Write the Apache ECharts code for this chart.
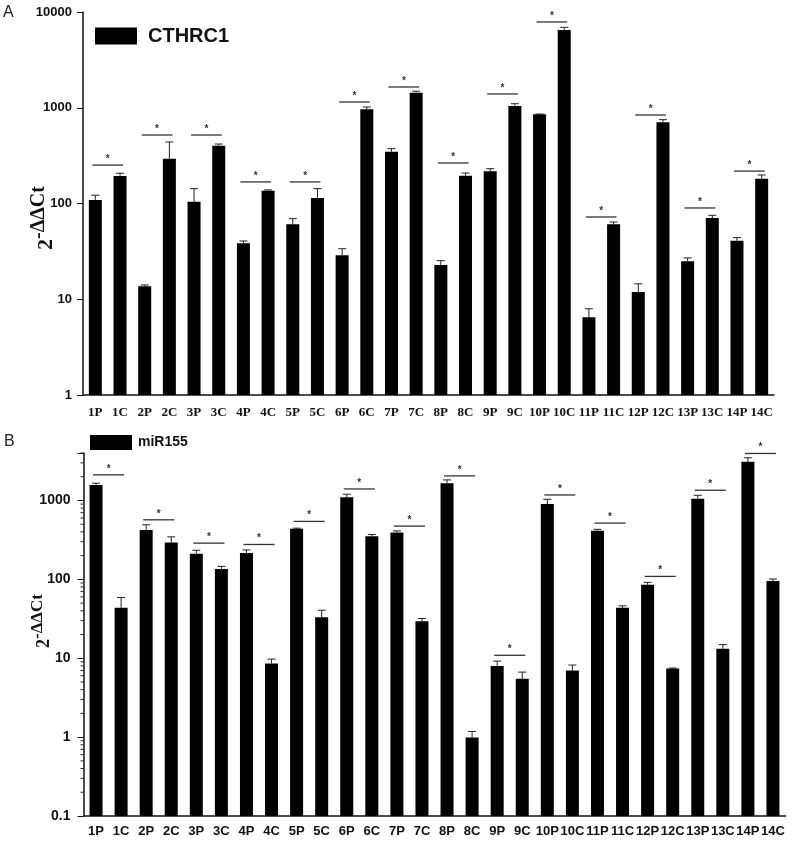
<!DOCTYPE html>
<html>
<head>
<meta charset="utf-8">
<script src="https://cdn.jsdelivr.net/npm/echarts@6/dist/echarts.min.js"></script>
<style>
  html, body { margin: 0; padding: 0; background: #fff; }
  #chart { width: 794px; height: 841px; }
</style>
</head>
<body>
<div id="chart"></div>
<script>
// sample labels (P / C pairs)
const categories = ['1P','1C','2P','2C','3P','3C','4P','4C','5P','5C','6P','6C','7P','7C',
  '8P','8C','9P','9C','10P','10C','11P','11C','12P','12C','13P','13C','14P','14C'];

// panel A - CTHRC1 (mean and upper error)
const cthrc1 = [109, 194, 13.7, 294, 104, 402, 38.4, 136, 60.6, 114, 28.8, 964, 347, 1436,
  22.8, 195, 217, 1043, 853, 6490, 6.48, 60.6, 11.9, 705, 24.9, 70.6, 40.9, 181.6];
const cthrc1Err = [13, 13, 0.4, 145, 39, 16, 2.2, 2.6, 8.9, 29, 4.9, 54, 27, 54,
  2.5, 13, 14, 59, 7, 430, 1.48, 3.5, 2.6, 46, 2.1, 4.7, 3.1, 17];
// height of the "*" line over each pair
const cthrc1Sig = [252, 519, 519, 168, 168, 1148, 1648, 265, 1393, 7870, 72.3, 840, 89.8, 218];

// panel B - miR155
const mir155 = [1575, 43.6, 421, 293, 212, 135, 216, 8.59, 437, 33.1, 1097, 353, 393, 29.4,
  1656, 0.99, 7.95, 5.48, 902, 7.0, 413, 43.6, 85.6, 7.42, 1055, 13.2, 3090, 95.1];
const mir155Err = [81, 15.4, 71, 53, 22, 11, 20, 1.16, 9, 7.5, 102, 18, 19, 2.5,
  168, 0.19, 1.25, 1.19, 134, 1.2, 18, 2.6, 6, 0.1, 109, 1.7, 388, 5.9];
const mir155Sig = [2113, 569, 288, 277, 543, 1400, 473, 2051, 10.9, 1175, 517, 109, 1349, 3946];

// axis ticks
const ticksA = [1, 10, 100, 1000, 10000];
const ticksB = [0.1, 1, 10, 100, 1000];
const minorTicksB = [0.2, 0.3, 0.4, 0.5, 0.6, 0.7, 0.8, 0.9, 2, 3, 4, 5, 6, 7, 8, 9,
  20, 30, 40, 50, 60, 70, 80, 90, 200, 300, 400, 500, 600, 700, 800, 900, 2000, 3000, 4000];

const chart = echarts.init(document.getElementById('chart'));

function fmtLog(list) {
  return function (v) {
    for (const t of list) {
      if (Math.abs(Math.log10(v) - Math.log10(t)) < 1e-6) return String(t);
    }
    return '';
  };
}

// bars drawn down to the bottom of the grid (log axis base is otherwise 1)
function barRender(params, api) {
  const top = api.coord([api.value(0), api.value(1)]);
  const bottom = params.coordSys.y + params.coordSys.height;
  const w = 13;
  return { type: 'rect', shape: { x: top[0] - w / 2, y: top[1], width: w, height: bottom - top[1] },
    style: { fill: '#000' } };
}

function errRender(params, api) {
  const i = api.value(0), v = api.value(1), sd = api.value(2);
  const base = api.coord([i, v]);
  const top = api.coord([i, v + sd]);
  return {
    type: 'group',
    children: [
      { type: 'line', shape: { x1: base[0], y1: base[1], x2: top[0], y2: top[1] }, style: { stroke: '#222', lineWidth: 1 } },
      { type: 'line', shape: { x1: top[0] - 4, y1: top[1], x2: top[0] + 4, y2: top[1] }, style: { stroke: '#222', lineWidth: 1 } }
    ]
  };
}

function sigRender(params, api) {
  const a = api.coord([api.value(0), api.value(2)]);
  const b = api.coord([api.value(1), api.value(2)]);
  return {
    type: 'group',
    children: [
      { type: 'line', shape: { x1: a[0] - 3, y1: a[1], x2: b[0] + 3, y2: b[1] }, style: { stroke: '#333', lineWidth: 1.3 } },
      { type: 'text', x: (a[0] + b[0]) / 2, y: a[1] - 1,
        style: { text: '*', fill: '#333', font: 'bold 10px "Liberation Sans"', align: 'center', verticalAlign: 'bottom' } }
    ]
  };
}

function minorRender(params, api) {
  const p = api.coord([0, api.value(1)]);
  const x0 = params.coordSys.x;
  return { type: 'line', shape: { x1: x0 - 3, y1: p[1], x2: x0, y2: p[1] }, style: { stroke: '#222', lineWidth: 1 } };
}

const barsB = mir155.map((v, i) => [i, v]);
const errA = cthrc1.map((v, i) => [i, v, cthrc1Err[i]]);
const errB = mir155.map((v, i) => [i, v, mir155Err[i]]);
const sigA = cthrc1Sig.map((h, k) => [2 * k, 2 * k + 1, h]);
const sigB = mir155Sig.map((h, k) => [2 * k, 2 * k + 1, h]);

const axisLine = { show: true, lineStyle: { color: '#111', width: 1.5 } };

const option = {
  animation: false,
  backgroundColor: '#fff',
  grid: [
    { left: 83, right: 20, top: 12, bottom: 446 },
    { left: 83.5, right: 8.5, top: 453, bottom: 25 }
  ],
  legend: [
    { data: ['CTHRC1'], left: 95, top: 26, padding: 0, icon: 'rect', itemWidth: 42, itemHeight: 17,
      textStyle: { fontFamily: 'Liberation Sans', fontWeight: 'bold', fontSize: 20, color: '#111', padding: [0, 0, 0, 6] } },
    { data: ['miR155'], left: 90, top: 435, padding: 0, icon: 'rect', itemWidth: 42, itemHeight: 15,
      textStyle: { fontFamily: 'Liberation Sans', fontWeight: 'bold', fontSize: 14, color: '#111', padding: [0, 0, 0, 1] } }
  ],
  xAxis: [
    { type: 'category', gridIndex: 0, data: categories,
      axisLine: axisLine, axisTick: { alignWithLabel: true, length: 4, lineStyle: { color: '#111' } },
      axisLabel: { interval: 0, margin: 11, fontFamily: 'Liberation Serif', fontWeight: 'bold', fontSize: 13, color: '#111' } },
    { type: 'category', gridIndex: 1, data: categories,
      axisLine: axisLine, axisTick: { alignWithLabel: true, length: 4, lineStyle: { color: '#111' } },
      axisLabel: { interval: 0, margin: 9, fontFamily: 'Liberation Sans', fontWeight: 'bold', fontSize: 13, color: '#111' } }
  ],
  yAxis: [
    { type: 'log', logBase: 10, gridIndex: 0, min: 1, max: 10000,
      axisLine: axisLine, axisTick: { show: true, length: 6, lineStyle: { color: '#111' } }, splitLine: { show: false },
      axisLabel: { margin: 11, fontFamily: 'Liberation Sans', fontWeight: 'bold', fontSize: 13, color: '#111', formatter: fmtLog(ticksA) } },
    { type: 'log', logBase: 10, gridIndex: 1, min: 0.1, max: 4000,
      axisLine: axisLine, axisTick: { show: true, length: 6, lineStyle: { color: '#111' } }, splitLine: { show: false },
      axisLabel: { margin: 13, fontFamily: 'Liberation Sans', fontWeight: 'bold', fontSize: 14, color: '#111', formatter: fmtLog(ticksB) } }
  ],
  series: [
    { name: 'CTHRC1', type: 'bar', xAxisIndex: 0, yAxisIndex: 0, data: cthrc1, barWidth: 13,
      itemStyle: { color: '#000' } },
    { type: 'custom', xAxisIndex: 0, yAxisIndex: 0, data: errA, renderItem: errRender, encode: { x: 0, y: [1, 2] }, z: 3 },
    { type: 'custom', xAxisIndex: 0, yAxisIndex: 0, data: sigA, renderItem: sigRender, encode: { x: [0, 1], y: 2 }, z: 3 },
    { name: 'miR155', type: 'custom', xAxisIndex: 1, yAxisIndex: 1, data: barsB, renderItem: barRender,
      encode: { x: 0, y: 1 }, itemStyle: { color: '#000' } },
    { type: 'custom', xAxisIndex: 1, yAxisIndex: 1, data: errB, renderItem: errRender, encode: { x: 0, y: [1, 2] }, z: 3 },
    { type: 'custom', xAxisIndex: 1, yAxisIndex: 1, data: sigB, renderItem: sigRender, encode: { x: [0, 1], y: 2 }, z: 3 },
    { type: 'custom', xAxisIndex: 1, yAxisIndex: 1, data: minorTicksB.map(v => [0, v]), renderItem: minorRender,
      encode: { x: 0, y: 1 }, clip: false, z: 3 }
  ],
  graphic: [
    { type: 'text', left: 3, top: 5, style: { text: 'A', font: '16px "Liberation Sans"', fill: '#222' } },
    { type: 'text', left: 4, top: 434, style: { text: 'B', font: '16px "Liberation Sans"', fill: '#222' } },
    { type: 'text', x: 43, y: 218, rotation: Math.PI / 2,
      style: { text: '{b|2}{s|-ΔΔCt}', align: 'center', verticalAlign: 'middle', fill: '#111',
        rich: { b: { font: 'bold 22px "Liberation Serif"', verticalAlign: 'bottom', lineHeight: 28 },
                s: { font: 'bold 20px "Liberation Serif"', verticalAlign: 'top', lineHeight: 28 } } } },
    { type: 'text', x: 41, y: 621, rotation: Math.PI / 2,
      style: { text: '{b|2}{s|-ΔΔCt}', align: 'center', verticalAlign: 'middle', fill: '#111',
        rich: { b: { font: 'bold 18px "Liberation Serif"', verticalAlign: 'bottom', lineHeight: 24 },
                s: { font: 'bold 17px "Liberation Serif"', verticalAlign: 'top', lineHeight: 24 } } } }
  ]
};

chart.setOption(option);
</script>
</body>
</html>
